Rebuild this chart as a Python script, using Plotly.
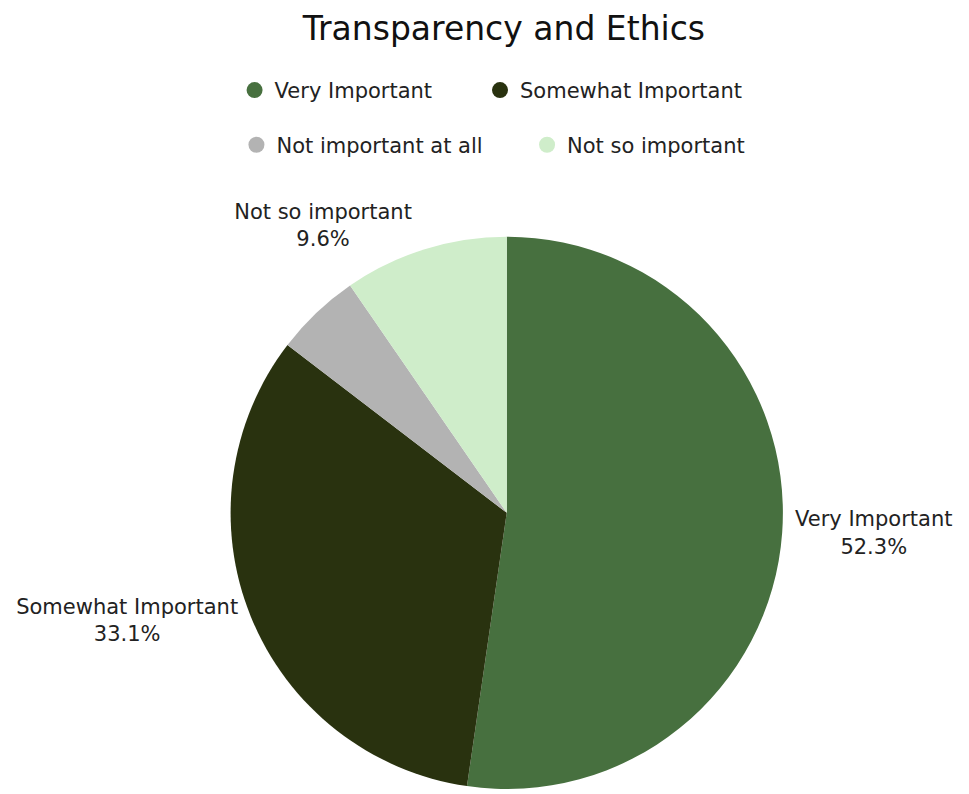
import plotly.graph_objects as go

# Survey responses for "Transparency and Ethics"
categories = ["Very Important", "Somewhat Important", "Not important at all", "Not so important"]
shares = [52.3, 33.1, 5.0, 9.6]
colors = ["#47703f", "#29320f", "#b3b3b3", "#cfedca"]
# the smallest slice carries no outside label
show_label = [True, True, False, True]

# Legend layout: two rows, two entries each (left edge in px, row centre in px)
legend_left_px = [212, 478, 214, 529]
legend_row_px = [91, 91, 146, 146]

FONT = "DejaVu Sans, sans-serif"
W, H = 969, 794

fig = go.Figure()

fig.add_trace(go.Pie(
    labels=categories,
    values=shares,
    marker=dict(colors=colors, line=dict(width=0)),
    sort=False,
    direction="clockwise",
    rotation=0,
    textposition="outside",
    texttemplate=["%{label}<br>%{percent:.1%}" if s else "" for s in show_label],
    textfont=dict(family=FONT, size=21, color="#222222"),
    showlegend=False,
    hoverinfo="label+percent",
    domain=dict(x=[0.5232 - 0.31, 0.5232 + 0.31], y=[0.0, 0.70]),
))

# One legend per entry so each can be placed on its own
legend_layout = {}
for i, (name, col) in enumerate(zip(categories, colors)):
    key = "legend" if i == 0 else f"legend{i + 1}"
    fig.add_trace(go.Scatter(
        x=[None], y=[None], mode="markers", name=name,
        marker=dict(symbol="circle", size=16, color=col),
        legend=key, showlegend=True,
    ))
    legend_layout[key] = dict(
        orientation="h", xanchor="left", yanchor="middle",
        x=legend_left_px[i] / W, y=1 - legend_row_px[i] / H,
        font=dict(family=FONT, size=21, color="#222222"),
        bgcolor="rgba(0,0,0,0)", itemclick=False, itemdoubleclick=False,
    )

fig.update_layout(
    width=W, height=H,
    margin=dict(l=0, r=0, t=0, b=0),
    paper_bgcolor="white", plot_bgcolor="white",
    title=dict(text="Transparency and Ethics", x=0.52, xanchor="center",
               y=1 - 28 / H, yanchor="middle",
               font=dict(family=FONT, size=33, color="#111111")),
    xaxis=dict(visible=False), yaxis=dict(visible=False),
    **legend_layout,
)

fig.write_html("out.html")
